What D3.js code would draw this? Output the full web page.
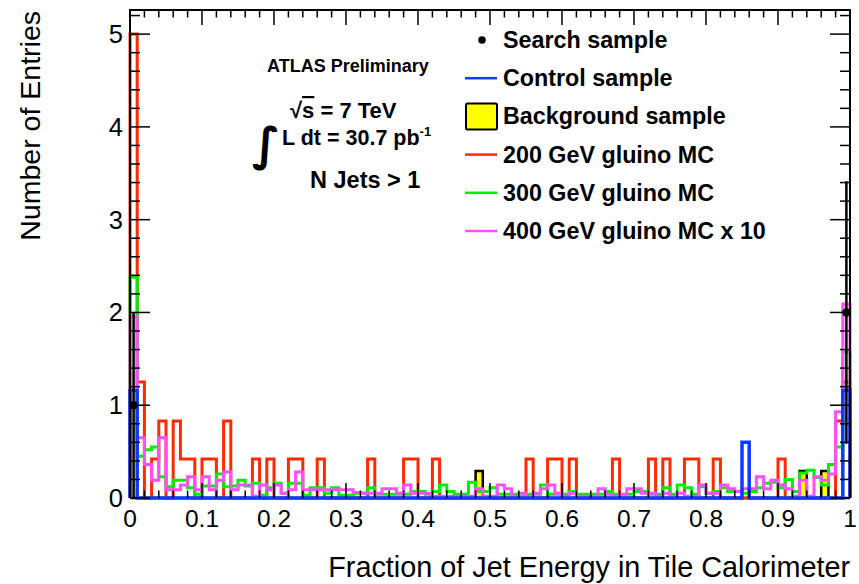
<!DOCTYPE html>
<html lang="en">
<head>
<meta charset="UTF-8">
<title>Fraction of Jet Energy in Tile Calorimeter</title>
<script src="https://d3js.org/d3.v7.min.js"></script>
<style>
    body { margin: 0; background: #fff; }
    svg { font-family: "Liberation Sans", Arial, Helvetica, sans-serif; }
</style>
</head>
<body>
<div id="chart"></div>
<script>
// 100 bins of width 0.01 between 0 and 1
var binCount = 100;

var searchSample = [
    1, 0, 0, 0, 0, 0, 0, 0, 0, 0,
    0, 0, 0, 0, 0, 0, 0, 0, 0, 0,
    0, 0, 0, 0, 0, 0, 0, 0, 0, 0,
    0, 0, 0, 0, 0, 0, 0, 0, 0, 0,
    0, 0, 0, 0, 0, 0, 0, 0, 0, 0,
    0, 0, 0, 0, 0, 0, 0, 0, 0, 0,
    0, 0, 0, 0, 0, 0, 0, 0, 0, 0,
    0, 0, 0, 0, 0, 0, 0, 0, 0, 0,
    0, 0, 0, 0, 0, 0, 0, 0, 0, 0,
    0, 0, 0, 0, 0, 0, 0, 0, 0, 2
];

var controlSample = [
    1.16, 0, 0, 0, 0, 0, 0, 0, 0, 0,
    0, 0, 0, 0, 0, 0, 0, 0, 0, 0,
    0, 0, 0, 0, 0, 0, 0, 0, 0, 0,
    0, 0, 0, 0, 0, 0, 0, 0, 0, 0,
    0, 0, 0, 0, 0, 0, 0, 0, 0, 0,
    0, 0, 0, 0, 0, 0, 0, 0, 0, 0,
    0, 0, 0, 0, 0, 0, 0, 0, 0, 0,
    0, 0, 0, 0, 0, 0, 0, 0, 0, 0,
    0, 0, 0, 0, 0, 0.6, 0, 0, 0, 0,
    0, 0, 0, 0, 0, 0, 0, 0, 0, 1.16
];

var backgroundSample = [
    0, 0, 0, 0, 0, 0, 0, 0, 0, 0,
    0, 0, 0, 0, 0, 0, 0, 0, 0, 0,
    0, 0, 0, 0, 0, 0, 0, 0, 0, 0,
    0, 0, 0, 0, 0, 0, 0, 0, 0, 0,
    0, 0, 0, 0, 0, 0, 0, 0, 0.29, 0,
    0, 0, 0, 0, 0, 0, 0, 0, 0, 0,
    0, 0, 0, 0, 0, 0, 0, 0, 0, 0,
    0, 0, 0, 0, 0, 0, 0, 0, 0, 0,
    0, 0, 0, 0, 0, 0, 0, 0, 0, 0,
    0, 0, 0, 0.29, 0, 0, 0.29, 0, 0, 0
];

var gluino200 = [
    5.0, 1.25, 0, 0.42, 0.83, 0, 0.83, 0.42, 0.42, 0,
    0.42, 0.42, 0, 0.83, 0, 0, 0, 0.42, 0, 0.42,
    0, 0, 0.42, 0.42, 0, 0, 0.42, 0, 0, 0,
    0, 0, 0, 0.42, 0, 0, 0, 0, 0.42, 0.42,
    0, 0, 0.42, 0, 0, 0, 0, 0, 0, 0,
    0, 0, 0, 0, 0, 0.42, 0, 0, 0.42, 0.42,
    0, 0.42, 0, 0, 0, 0, 0, 0.42, 0, 0,
    0, 0, 0.42, 0, 0.42, 0, 0, 0.42, 0.42, 0,
    0, 0.42, 0, 0, 0, 0, 0, 0, 0, 0,
    0.42, 0, 0, 0, 0, 0, 0, 0, 0.83, 1.25
];

var gluino300 = [
    2.38, 0.45, 0.52, 0.55, 0.23, 0.12, 0.19, 0.19, 0.11, 0.04,
    0.13, 0.13, 0.26, 0.12, 0.13, 0.19, 0.13, 0.16, 0.03, 0.11,
    0.16, 0.05, 0.16, 0.16, 0.03, 0.11, 0.11, 0.05, 0.11, 0.03,
    0.03, 0.05, 0.05, 0.11, 0.04, 0.04, 0.04, 0.04, 0.04, 0.07,
    0.07, 0.04, 0.07, 0.14, 0.07, 0.04, 0.04, 0.17, 0.07, 0.07,
    0.11, 0.04, 0.04, 0.04, 0.02, 0.04, 0.04, 0.14, 0.04, 0.04,
    0.04, 0.07, 0.04, 0.04, 0.04, 0.04, 0.07, 0.04, 0.04, 0.04,
    0.07, 0.07, 0.04, 0.04, 0.11, 0.04, 0.14, 0.11, 0.04, 0.12,
    0.05, 0.07, 0.11, 0.07, 0.07, 0.05, 0.07, 0.11, 0.16, 0.17,
    0.11, 0.2, 0.07, 0.27, 0.3, 0.22, 0.14, 0.36, 0.55, 1.57
];

var gluino400x10 = [
    1.95, 0.65, 0.36, 0.19, 0.65, 0.09, 0.09, 0.14, 0.23, 0.09,
    0.23, 0.09, 0.19, 0.28, 0.09, 0.14, 0.14, 0.02, 0.14, 0.09,
    0.14, 0.05, 0.09, 0.28, 0.09, 0.09, 0.09, 0.09, 0.09, 0.09,
    0.09, 0.06, 0.05, 0.05, 0.05, 0.1, 0.1, 0.05, 0.14, 0.05,
    0.05, 0.05, 0.02, 0.02, 0.02, 0.02, 0.02, 0.02, 0.1, 0.02,
    0.02, 0.14, 0.1, 0.02, 0.05, 0.02, 0.05, 0.1, 0.14, 0.05,
    0.02, 0.05, 0.02, 0.02, 0.02, 0.1, 0.04, 0.02, 0.04, 0.1,
    0.1, 0.05, 0.05, 0.02, 0.05, 0.02, 0.05, 0.02, 0.02, 0.14,
    0.05, 0.05, 0.14, 0.1, 0.07, 0.1, 0.1, 0.23, 0.1, 0.19,
    0.14, 0.1, 0.02, 0.19, 0.02, 0.23, 0.19, 0.26, 0.93, 2.09
];

var xTickValues = [0, 0.1, 0.2, 0.3, 0.4, 0.5, 0.6, 0.7, 0.8, 0.9, 1];
var xTickLabels = ["0", "0.1", "0.2", "0.3", "0.4", "0.5", "0.6", "0.7", "0.8", "0.9", "1"];
var yTickValues = [0, 1, 2, 3, 4, 5];
var yTickLabels = ["0", "1", "2", "3", "4", "5"];

var legendLabels = ["Search sample", "Control sample", "Background sample",
    "200 GeV gluino MC", "300 GeV gluino MC", "400 GeV gluino MC x 10"];

var width = 859, height = 584;
var plot = { left: 130, right: 850, top: 10, bottom: 498 };

var svg = d3.select("#chart").append("svg")
    .attr("width", width)
    .attr("height", height);

var x = d3.scaleLinear().domain([0, 1]).range([plot.left, plot.right]);
var y = d3.scaleLinear().domain([0, 5.26]).range([plot.bottom, plot.top]);

var binW = 1 / binCount;

function stepPoints(values) {
    var pts = [[0, 0]];
    values.forEach(function(v, i) { pts.push([i * binW, v]); });
    pts.push([1, values[values.length - 1]]);
    pts.push([1, 0]);
    return pts;
}

var stepLine = d3.line()
    .x(d => x(d[0]))
    .y(d => y(d[1]))
    .curve(d3.curveStepAfter);

var stepArea = d3.area()
    .x(d => x(d[0]))
    .y0(y(0))
    .y1(d => y(d[1]))
    .curve(d3.curveStepAfter);

// bottom axis line under the histograms
svg.append("line")
    .attr("x1", plot.left).attr("x2", plot.right)
    .attr("y1", plot.bottom).attr("y2", plot.bottom)
    .attr("stroke", "#000").attr("stroke-width", 2);

var colors = {
    control: "#0a3cff",
    red: "#ff2a00",
    green: "#00ee00",
    magenta: "#ff4dff"
};

svg.append("path")
    .attr("d", stepArea(stepPoints(backgroundSample)))
    .attr("fill", "#ffff00").attr("stroke", "#000").attr("stroke-width", 2.5);

svg.append("path")
    .attr("d", stepLine(stepPoints(gluino200)))
    .attr("fill", "none").attr("stroke", colors.red).attr("stroke-width", 3);

svg.append("path")
    .attr("d", stepLine(stepPoints(gluino300)))
    .attr("fill", "none").attr("stroke", colors.green).attr("stroke-width", 3);

svg.append("path")
    .attr("d", stepLine(stepPoints(gluino400x10)))
    .attr("fill", "none").attr("stroke", colors.magenta).attr("stroke-width", 3);

svg.append("path")
    .attr("d", stepLine(stepPoints(controlSample)))
    .attr("fill", "none").attr("stroke", colors.control).attr("stroke-width", 3.5);

// search sample points with poisson errors
var pts = searchSample.map((v, i) => ({ x: (i + 0.5) * binW, v: v })).filter(d => d.v > 0);

svg.selectAll(".err").data(pts).enter().append("line")
    .attr("x1", d => x(d.x)).attr("x2", d => x(d.x))
    .attr("y1", d => y(d.v - Math.sqrt(d.v))).attr("y2", d => y(d.v + Math.sqrt(d.v)))
    .attr("stroke", "#000").attr("stroke-width", 2.5);

svg.selectAll(".pt").data(pts).enter().append("circle")
    .attr("cx", d => x(d.x)).attr("cy", d => y(d.v))
    .attr("r", 4.2).attr("fill", "#000");

// frame: left, top, right (bottom drawn underneath)
svg.append("path")
    .attr("d", "M" + plot.left + "," + plot.bottom + "V" + plot.top + "H" + plot.right + "V" + plot.bottom)
    .attr("fill", "none").attr("stroke", "#000").attr("stroke-width", 2);

// x ticks (bottom and top)
var xMinor = d3.range(0, 51).map(i => i * 0.02);
var ticksG = svg.append("g").attr("stroke", "#000").attr("stroke-width", 1.5);
xMinor.forEach(function(t, i) {
    var len = (i % 5 === 0) ? 15 : 7.5;
    ticksG.append("line").attr("x1", x(t)).attr("x2", x(t))
        .attr("y1", plot.bottom).attr("y2", plot.bottom - len);
    ticksG.append("line").attr("x1", x(t)).attr("x2", x(t))
        .attr("y1", plot.top).attr("y2", plot.top + len);
});

var yMinor = d3.range(0, 27).map(i => i * 0.2);
yMinor.forEach(function(t, i) {
    var len = (i % 5 === 0) ? 20 : 10;
    ticksG.append("line").attr("x1", plot.left).attr("x2", plot.left + len)
        .attr("y1", y(t)).attr("y2", y(t));
    ticksG.append("line").attr("x1", plot.right).attr("x2", plot.right - len)
        .attr("y1", y(t)).attr("y2", y(t));
});

// tick labels
svg.selectAll(".xlab").data(xTickValues).enter().append("text")
    .attr("x", d => x(d)).attr("y", 527)
    .attr("text-anchor", "middle")
    .attr("font-size", 24.5)
    .text((d, i) => xTickLabels[i]);

svg.selectAll(".ylab").data(yTickValues).enter().append("text")
    .attr("x", 123).attr("y", d => y(d) + 9)
    .attr("text-anchor", "end")
    .attr("font-size", 25.5)
    .text((d, i) => yTickLabels[i]);

// axis titles
svg.append("text")
    .attr("x", plot.right).attr("y", 577)
    .attr("text-anchor", "end")
    .attr("font-size", 28.8)
    .text("Fraction of Jet Energy in Tile Calorimeter");

svg.append("text")
    .attr("transform", "translate(40," + (plot.top + 1) + ") rotate(-90)")
    .attr("text-anchor", "end")
    .attr("font-size", 28.5)
    .text("Number of Entries");

// ATLAS labels
var info = svg.append("g").attr("font-weight", "bold").attr("fill", "#000");
info.append("text").attr("x", 267).attr("y", 72).attr("font-size", 18).text("ATLAS Preliminary");

var rs = info.append("text").attr("x", 290).attr("y", 118).attr("font-size", 22);
rs.append("tspan").text("\u221A");
rs.append("tspan").attr("text-decoration", "overline").text("s");
rs.append("tspan").text(" = 7 TeV");

info.append("text").attr("x", 252).attr("y", 160)
    .attr("font-size", 46).attr("font-weight", "bold")
    .attr("font-family", "DejaVu Sans")
    .text("\u222B");

var lum = info.append("text").attr("x", 282).attr("y", 145).attr("font-size", 21.5);
lum.append("tspan").text("L dt = 30.7 pb");
lum.append("tspan").attr("font-size", 13).attr("dy", -9).text("-1");

info.append("text").attr("x", 310).attr("y", 188).attr("font-size", 23.5).text("N Jets > 1");

// legend
var legend = svg.append("g");
var rowY = d3.scaleLinear().domain([0, 5]).range([40, 231]);
var legendMarks = ["dot", colors.control, "box", colors.red, colors.green, colors.magenta];

legendLabels.forEach(function(label, i) {
    var cy = rowY(i);
    var m = legendMarks[i];
    if (m === "dot") {
        legend.append("circle").attr("cx", 482).attr("cy", cy).attr("r", 3.8).attr("fill", "#000");
    } else if (m === "box") {
        legend.append("rect").attr("x", 466).attr("y", cy - 13).attr("width", 31).attr("height", 26)
            .attr("fill", "#ffff00").attr("stroke", "#000").attr("stroke-width", 2).attr("rx", 1.5);
    } else {
        legend.append("line").attr("x1", 465).attr("x2", 497).attr("y1", cy).attr("y2", cy)
            .attr("stroke", m).attr("stroke-width", 2.5);
    }
    legend.append("text")
        .attr("x", 503).attr("y", cy + 8)
        .attr("font-size", 23.3).attr("font-weight", "bold")
        .text(label);
});
</script>
</body>
</html>
